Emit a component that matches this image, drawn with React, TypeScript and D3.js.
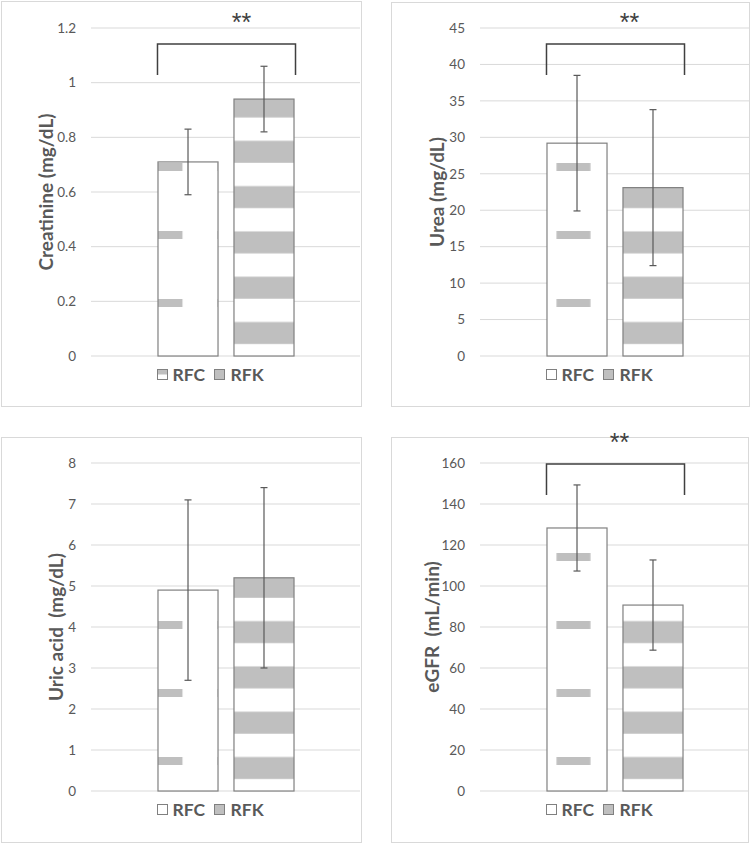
import React from 'react';
import * as d3 from 'd3';

// groups and values
const groups = ['RFC', 'RFK'];

const creatinineMean = [0.71, 0.94];
const creatinineSd = [0.12, 0.12];
const creatinineTicks = [0, 0.2, 0.4, 0.6, 0.8, 1, 1.2];

const ureaMean = [29.2, 23.1];
const ureaSd = [9.3, 10.7];
const ureaTicks = [0, 5, 10, 15, 20, 25, 30, 35, 40, 45];

const uricMean = [4.9, 5.2];
const uricSd = [2.2, 2.2];
const uricTicks = [0, 1, 2, 3, 4, 5, 6, 7, 8];

const egfrMean = [128.3, 90.7];
const egfrSd = [21, 22];
const egfrTicks = [0, 20, 40, 60, 80, 100, 120, 140, 160];

const titles = ['Creatinine (mg/dL)', 'Urea (mg/dL)', 'Uric acid  (mg/dL)', 'eGFR  (mL/min)'];
const signif = ['**', '**', '', '**'];

const W = 752, H = 843;
const FONT = 'Lato, "Open Sans", sans-serif';

// layout of each panel (pixels)
const layouts = [
  { box: [1, 1, 360, 405], plot: [91, 360, 28, 356], titleX: 46, bracketTop: 44, starDx: 16, dash: { x: 0, w: 25, y: 11 }, swatchHalf: true },
  { box: [391, 2, 358, 404], plot: [480, 749, 28, 356], titleX: 437, bracketTop: 44, starDx: 15, dash: { x: 10, w: 34, y: 11 }, swatchHalf: false },
  { box: [1, 437, 360, 405], plot: [91, 360, 463, 791], titleX: 56, bracketTop: 0, starDx: 0, dash: { x: 0, w: 25, y: 34 }, swatchHalf: false },
  { box: [391, 437, 357, 405], plot: [480, 749, 463, 791], titleX: 432, bracketTop: 464, starDx: 5, dash: { x: 10, w: 34, y: 34 }, swatchHalf: false },
];

const means = [creatinineMean, ureaMean, uricMean, egfrMean];
const sds = [creatinineSd, ureaSd, uricSd, egfrSd];
const ticks = [creatinineTicks, ureaTicks, uricTicks, egfrTicks];

function Panel({ i }: { i: number }) {
  const L = layouts[i];
  const [x0, x1, yTop, yBot] = L.plot;
  const t = ticks[i];
  const y = d3.scaleLinear().domain([0, t[t.length - 1]]).range([yBot, yTop]);
  const x = d3.scaleBand().domain(groups).range([x0, x1]).paddingInner(0.21).paddingOuter(0.875);
  const bw = x.bandwidth();
  const cx = (x0 + x1) / 2;
  const fmt = (v: number) => String(+v.toFixed(1));
  const rfcId = `rfc${i}`, rfkId = `rfk${i}`;
  const xl = x('RFC')!, xr = x('RFK')! + bw;

  return (
    <g>
      <defs>
        <pattern id={rfcId} patternUnits="userSpaceOnUse" x={xl} y={yBot} width={bw} height={68}>
          <rect width={bw} height={68} fill="#fff" />
          <rect x={L.dash.x} y={L.dash.y} width={L.dash.w} height={8} fill="#bfbfbf" />
        </pattern>
        <pattern id={rfkId} patternUnits="userSpaceOnUse" x={x('RFK')} y={yBot} width={bw} height={45.3}>
          <rect width={bw} height={45.3} fill="#fff" />
          <rect x={0} y={11.3} width={bw} height={22} fill="#bfbfbf" />
        </pattern>
      </defs>
      <rect x={L.box[0] + 0.5} y={L.box[1] + 0.5} width={L.box[2]} height={L.box[3]} fill="#fff" stroke="#d9d9d9" />
      {t.map(v => (
        <g key={v}>
          <line x1={x0} x2={x1} y1={y(v)} y2={y(v)} stroke="#d9d9d9" strokeWidth={1} />
          <text x={x0 - 15} y={y(v)} dy="0.35em" textAnchor="end" fontSize={13.5} fill="#595959" fontFamily={FONT}>{fmt(v)}</text>
        </g>
      ))}
      <text transform={`translate(${L.titleX},${(yTop + yBot) / 2}) rotate(-90)`} textAnchor="middle" dy="0.35em"
        fontSize={19} fontWeight="bold" fill="#595959" fontFamily={FONT} style={{ whiteSpace: 'pre' }}>{titles[i]}</text>
      {groups.map((g, k) => (
        <rect key={g} x={x(g)! + 0.5} y={y(means[i][k])} width={bw} height={yBot - y(means[i][k])}
          fill={`url(#${k === 0 ? rfcId : rfkId})`} stroke="#808080" strokeWidth={1.2} />
      ))}
      {groups.map((g, k) => {
        const c = x(g)! + bw / 2 + 0.5;
        const hi = y(means[i][k] + sds[i][k]), lo = y(means[i][k] - sds[i][k]);
        return (
          <g key={g} stroke="#595959" strokeWidth={1.2}>
            <line x1={c} x2={c} y1={hi} y2={lo} />
            <line x1={c - 3.5} x2={c + 3.5} y1={hi} y2={hi} />
            <line x1={c - 3.5} x2={c + 3.5} y1={lo} y2={lo} />
          </g>
        );
      })}
      {signif[i] && (
        <g>
          <path d={`M${xl},${L.bracketTop + 31}V${L.bracketTop}H${xr + 2}V${L.bracketTop + 31}`} fill="none" stroke="#404040" strokeWidth={1.5} />
          <text x={(xl + xr) / 2 + L.starDx} y={L.bracketTop - 13} textAnchor="middle" fontSize={25} fill="#404040"
            fontFamily='"Liberation Sans", sans-serif'>{signif[i]}</text>
        </g>
      )}
      <g fontFamily={FONT} fontWeight="bold" fontSize={17.5} fill="#595959">
        <rect x={cx - 68} y={yBot + 13.5} width={10} height={10} fill="#fff" stroke="#808080" />
        {L.swatchHalf && <rect x={cx - 67.5} y={yBot + 14} width={9} height={4.5} fill="#bfbfbf" />}
        <text x={cx - 53} y={yBot + 18.5} dy="0.36em">RFC</text>
        <rect x={cx - 11} y={yBot + 13.5} width={10} height={10} fill="#bfbfbf" stroke="#808080" />
        <text x={cx + 5} y={yBot + 18.5} dy="0.36em">RFK</text>
      </g>
    </g>
  );
}

export default function App() {
  return (
    <svg width={W} height={H} style={{ position: 'absolute', left: 0, top: 0, background: '#fff' }}>
      {layouts.map((_, i) => <Panel key={i} i={i} />)}
    </svg>
  );
}
